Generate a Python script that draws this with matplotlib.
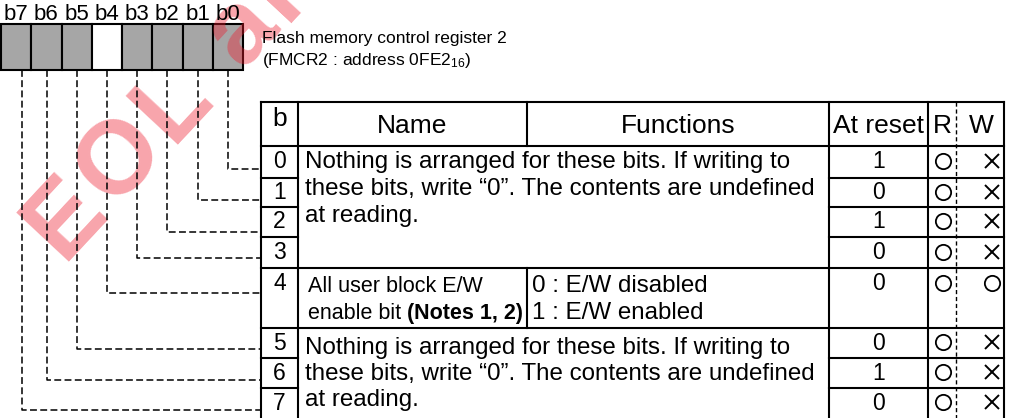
import numpy as np
import matplotlib
matplotlib.use('Agg')
import matplotlib.pyplot as plt
from matplotlib.font_manager import FontProperties

plt.rcParams['font.family'] = ['Liberation Sans', 'DejaVu Sans']
plt.rcParams['mathtext.fontset'] = 'custom'
plt.rcParams['mathtext.rm'] = 'Liberation Sans'

# register data
reg_labels = ['b7', 'b6', 'b5', 'b4', 'b3', 'b2', 'b1', 'b0']
reg_reserved = [True, True, True, False, True, True, True, True]
bits = [0, 1, 2, 3, 4, 5, 6, 7]
reset_vals = ['1', '0', '1', '0', '0', '0', '1', '0']
read_ok = [True, True, True, True, True, True, True, True]
write_ok = [False, False, False, False, True, False, False, False]
reserved_text = ['Nothing is arranged for these bits. If writing to',
                 'these bits, write \u201c0\u201d. The contents are undefined',
                 'at reading.']
name4 = ['All user block E/W', 'enable bit ']
name4_bold = '(Notes 1, 2)'
func4 = ['0 : E/W disabled', '1 : E/W enabled']
headers = ['b', 'Name', 'Functions', 'At reset', 'R', 'W']
title_lines = ['Flash memory control register 2',
               '(FMCR2 : address 0FE2$\\mathregular{_{16}}$)']
watermark = 'EOL announced'

# layout (pixels)
W, H = 1010, 418
reg_x = np.linspace(1, 243, 9)
reg_top, reg_bot = 24, 70
leader_x = [22, 47, 77, 107, 137, 167, 198, 228]      # b7 .. b0
leader_y = [169, 200, 232, 258, 293, 349, 380, 410]   # bit 0 .. 7
cols = [261, 298, 527, 829, 928, 956, 1004]
tab_top = 102
rows = [146, 178, 207, 237, 268, 328, 358, 388, 418]
lw = 1.5
dash = (0, (4.5, 2.2))

fig = plt.figure(figsize=(W / 100, H / 100), dpi=100)
ax = fig.add_axes([0, 0, 1, 1])
ax.set_xlim(0, W)
ax.set_ylim(H, 0)
ax.axis('off')
renderer = fig.canvas.get_renderer()

# watermark, drawn letter by letter with extra tracking
wm_size = 74
wm_fp = FontProperties(family='Liberation Sans', weight='bold', size=wm_size)
ang = np.deg2rad(47)
ux, uy = np.cos(ang), -np.sin(ang)
px, py = 62, 262
for ch in watermark:
    if ch == ' ':
        adv = 0.278 * wm_size * 100 / 72
    else:
        ax.text(px, py, ch, fontproperties=wm_fp, color='#ee1c2e', alpha=0.4,
                rotation=47, rotation_mode='anchor', ha='left', va='baseline', zorder=2)
        adv = renderer.get_text_width_height_descent(ch, wm_fp, ismath=False)[0]
    adv += 6
    px += adv * ux
    py += adv * uy

# register boxes
for i in range(8):
    x0, x1 = reg_x[i], reg_x[i + 1]
    fc = '#a6a6a6' if reg_reserved[i] else 'white'
    ax.add_patch(plt.Rectangle((x0, reg_top), x1 - x0, reg_bot - reg_top,
                               facecolor=fc, edgecolor='black', lw=lw, zorder=1))
    ax.text((x0 + x1) / 2, 14, reg_labels[i], ha='center', va='center', fontsize=16)

for j, t in enumerate(title_lines):
    ax.text(262, 43 + j * 22, t, ha='left', va='baseline', fontsize=12.5)

# leader lines
for i in range(8):
    bit = 7 - i
    x = leader_x[i]
    y = leader_y[bit]
    ax.plot([x, x, cols[0]], [reg_bot, y, y], color='black', lw=1.1, ls=dash, zorder=3)

# table lines
def hline(y, x0, x1):
    ax.plot([x0, x1], [y, y], color='black', lw=lw, solid_capstyle='projecting', zorder=3)

def vline(x, y0, y1):
    ax.plot([x, x], [y0, y1], color='black', lw=lw, solid_capstyle='projecting', zorder=3)

hline(tab_top, cols[0], cols[-1])
hline(rows[0], cols[0], cols[-1])
vline(cols[0], tab_top, H)
vline(cols[1], tab_top, H)
vline(cols[3], tab_top, H)
vline(cols[4], tab_top, H)
vline(cols[-1], tab_top, H)
vline(cols[2], tab_top, rows[0])
vline(cols[2], rows[4], rows[5])
ax.plot([cols[5], cols[5]], [tab_top, H], color='black', lw=1.0, ls=(0, (3, 2)), zorder=3)
for k in range(1, 8):
    hline(rows[k], cols[0], cols[1])
    hline(rows[k], cols[3], cols[-1])
hline(rows[4], cols[1], cols[3])
hline(rows[5], cols[1], cols[3])

# header
ax.text((cols[0] + cols[1]) / 2, 119, headers[0], ha='center', va='center', fontsize=19)
ax.text((cols[1] + cols[2]) / 2, 126, headers[1], ha='center', va='center', fontsize=19)
ax.text((cols[2] + cols[3]) / 2, 126, headers[2], ha='center', va='center', fontsize=19)
ax.text((cols[3] + cols[4]) / 2, 126, headers[3], ha='center', va='center', fontsize=19)
ax.text(942, 126, headers[4], ha='center', va='center', fontsize=19)
ax.text(981, 126, headers[5], ha='center', va='center', fontsize=19)

# rows
cx_b = (cols[0] + cols[1]) / 2
cx_reset = (cols[3] + cols[4]) / 2
r_x, w_x = 943, 992
for bit in bits:
    top, bot = rows[bit], rows[bit + 1]
    yc = (top + bot) / 2
    if bit == 4:
        yc = top + 16
    ax.text(cx_b, yc, str(bit), ha='center', va='center', fontsize=16.5)
    ax.text(cx_reset, yc, reset_vals[bit], ha='center', va='center', fontsize=16.5)
    ym = yc - 1
    if read_ok[bit]:
        ax.plot(r_x, ym, marker='o', ms=11, mfc='none', mec='black', mew=1.3, zorder=4)
    if write_ok[bit]:
        ax.plot(w_x, ym, marker='o', ms=11, mfc='none', mec='black', mew=1.3, zorder=4)
    else:
        ax.plot(w_x, ym, marker='x', ms=10, mec='black', mew=1.4, zorder=4)

for j, t in enumerate(reserved_text):
    ax.text(305, 168 + j * 27, t, ha='left', va='baseline', fontsize=17.4)
    ax.text(305, 354 + j * 26, t, ha='left', va='baseline', fontsize=17.4)

for j in range(2):
    t = ax.text(308, 292 + j * 27, name4[j], ha='left', va='baseline', fontsize=15.5)
    ax.text(532, 292 + j * 27, func4[j], ha='left', va='baseline', fontsize=17.4)
    if j == 1:
        bb = t.get_window_extent(renderer)
        x_end = ax.transData.inverted().transform((bb.x1, bb.y0))[0]
        ax.text(x_end, 292 + j * 27, name4_bold, ha='left', va='baseline',
                fontsize=15.5, fontweight='bold')

fig.savefig('out.png', dpi=100)
